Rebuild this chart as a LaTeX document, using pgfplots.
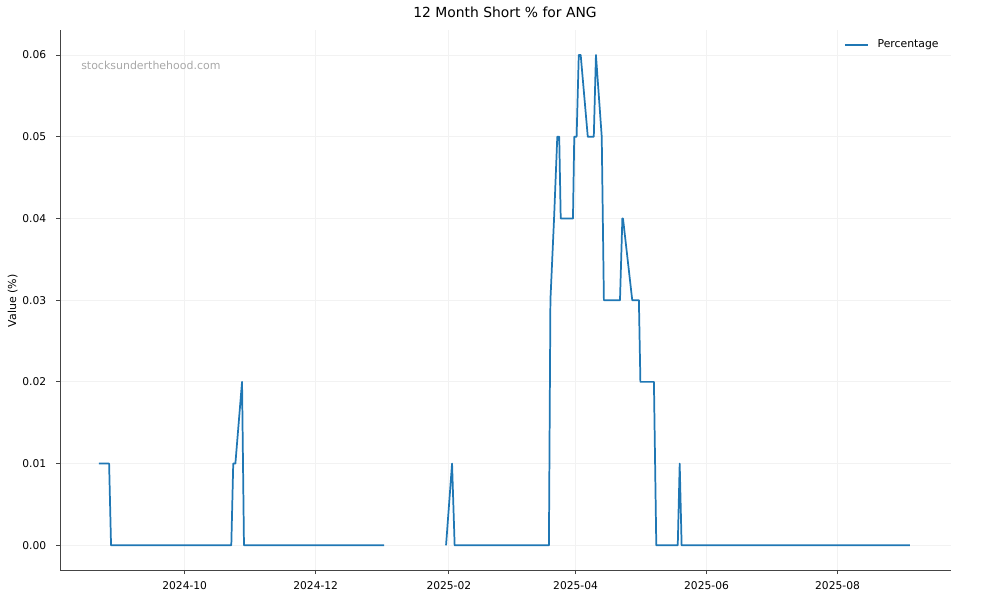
\documentclass[border=0pt]{standalone}
\usepackage{fontspec}
\setmainfont{DejaVu Sans}
\usepackage{pgfplots}
\pgfplotsset{compat=1.18}
\definecolor{mplblue}{HTML}{1F77B4}
\definecolor{spine}{HTML}{444444}
\definecolor{gridc}{HTML}{F2F2F2}
\definecolor{wmark}{HTML}{A8A8A8}
% 1 px of the reference = 0.72pt, picture 720pt x 432pt
% x = days since 2024-10-01
\begin{document}
\begin{tikzpicture}[x=1pt,y=1pt]
\path[use as bounding box] (0,0) rectangle (720,432);
\begin{axis}[
  at={(43.2pt,21.38pt)}, anchor=south west,
  scale only axis, width=641.3pt, height=389pt,
  xmin=-58.07, xmax=356.7,
  ymin=-0.00306, ymax=0.06306,
  axis x line*=bottom, axis y line*=left,
  axis line style={spine, line width=0.7pt, -},
  tick align=outside, major tick length=2.7pt,
  tick style={spine, line width=0.6pt},
  grid=major, grid style={gridc, line width=0.6pt},
  xtick={0,61,123,182,243,304},
  xticklabels={2024-10,2024-12,2025-02,2025-04,2025-06,2025-08},
  ytick={0,0.01,0.02,0.03,0.04,0.05,0.06},
  /pgf/number format/assume math mode=true,
  /pgf/number format/fixed, /pgf/number format/fixed zerofill,
  /pgf/number format/precision=2,
  ticklabel style={font=\fontsize{7.7}{9}\selectfont, inner sep=0pt},
  xticklabel style={anchor=north, yshift=-5.5pt},
  yticklabel style={anchor=east, xshift=-7pt},
  scaled y ticks=false,
  unbounded coords=jump,
  legend style={draw=none, fill=none, at={(axis description cs:0.880,0.9722)},
    anchor=west, inner sep=0pt, font=\fontsize{7.8}{9}\selectfont,
    nodes={inner sep=0pt}, column sep=6.3pt},
  legend image code/.code={\draw[#1] (0pt,0pt) -- (16.6pt,0pt);},
]
\addplot[mplblue, line width=1.25pt, line join=round] coordinates {
  (-40,0.01) (-35.2,0.01) (-34.3,0) (21.7,0) (22.6,0.01) (23.6,0.01)
  (26.7,0.02) (27.6,0) (92.9,0) (93.4,nan)
  (121.7,0) (124.5,0.01) (125.7,0) (169.6,0) (170.3,0.03) (172,0.04)
  (173.5,0.05) (174.4,0.05) (175.1,0.04) (180.8,0.04) (181.4,0.05)
  (182.5,0.05) (183.5,0.06) (184.4,0.06) (187.7,0.05) (190.5,0.05)
  (191.5,0.06) (194.2,0.05) (195.2,0.03) (202.7,0.03) (203.8,0.04)
  (204.1,0.04) (208.4,0.03) (211.5,0.03) (212.2,0.02) (218.5,0.02)
  (219.6,0) (229.6,0) (230.5,0.01) (231.4,0) (337.7,0)
};
\addlegendentry{Percentage}
\end{axis}
\node[anchor=base, font=\fontsize{10}{12}\selectfont] at (363.6,419.5) {12 Month Short \% for ANG};
\node[rotate=90, font=\fontsize{7.9}{9}\selectfont, inner sep=0pt] at (9.1,215.3) {Value (\%)};
\node[anchor=base west, inner sep=0pt, text=wmark, font=\fontsize{7.9}{9}\selectfont] at (58.3,382.3) {stocksunderthehood.com};
\end{tikzpicture}
\end{document}
